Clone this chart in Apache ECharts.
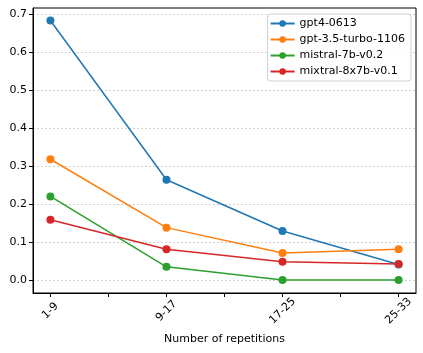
<!DOCTYPE html>
<html><head><meta charset="utf-8">
<script src="https://cdn.jsdelivr.net/npm/echarts@6/dist/echarts.min.js"></script>
<style>html,body{margin:0;padding:0;background:#fff}#c{width:423px;height:353px}</style>
</head><body><div id="c"></div>
<script>
const categories = ['1-9', '9-17', '17-25', '25-33'];
const gpt4 = [0.683, 0.264, 0.129, 0.041];
const gpt35 = [0.318, 0.138, 0.071, 0.081];
const mistral = [0.220, 0.035, 0.0, 0.0];
const mixtral = [0.159, 0.081, 0.048, 0.042];
const yTicks = [0, 0.1, 0.2, 0.3, 0.4, 0.5, 0.6, 0.7];
const xTicks = [0, 0.5, 1, 1.5, 2, 2.5, 3];
const seriesNames = ['gpt4-0613', 'gpt-3.5-turbo-1106', 'mistral-7b-v0.2', 'mixtral-8x7b-v0.1'];
const colors = ['#1f77b4', '#ff7f0e', '#2ca02c', '#d62728'];
const allData = [gpt4, gpt35, mistral, mixtral];

const font = 'DejaVu Sans';
const chart = echarts.init(document.getElementById('c'), null, {renderer: 'canvas'});
chart.setOption({
  animation: false,
  backgroundColor: '#fff',
  grid: {left: 33, right: 7, top: 8, bottom: 60, show: true, borderColor: '#000', borderWidth: 1, containLabel: false},
  legend: {
    orient: 'vertical', right: 12, top: 14,
    itemWidth: 24, itemHeight: 8, itemGap: 5,
    padding: [4, 6, 4, 2],
    borderColor: '#d0d0d0', borderWidth: 1, borderRadius: 3,
    backgroundColor: 'rgba(255,255,255,0.8)',
    textStyle: {fontFamily: font, fontSize: 11, color: '#000'},
    data: seriesNames
  },
  xAxis: {
    type: 'value', min: -0.15, max: 3.15,
    name: 'Number of repetitions', nameLocation: 'middle', nameGap: 41,
    nameTextStyle: {fontFamily: font, fontSize: 11, color: '#000'},
    axisLine: {onZero: false, lineStyle: {color: '#000', width: 1}},
    axisTick: {show: true, inside: false, length: 4, customValues: xTicks, lineStyle: {color: '#000'}},
    axisLabel: {customValues: [0, 1, 2, 3], rotate: 45, margin: 18, align: 'center', verticalAlign: 'middle',
      fontFamily: font, fontSize: 11, color: '#000',
      formatter: v => categories[Math.round(v)]},
    splitLine: {show: false}
  },
  yAxis: {
    type: 'value', min: -0.034, max: 0.716,
    axisLine: {show: true, onZero: false, lineStyle: {color: '#000', width: 1}},
    axisTick: {show: true, inside: false, length: 4, customValues: yTicks, lineStyle: {color: '#000'}},
    axisLabel: {customValues: yTicks, margin: 6, fontFamily: font, fontSize: 11, color: '#000',
      formatter: v => v.toFixed(1)},
    splitLine: {show: true, customValues: yTicks, lineStyle: {color: '#c4c4c4', type: [2, 2], width: 0.8}}
  },
  series: allData.map((d, i) => ({
    name: seriesNames[i], type: 'line',
    data: d.map((v, j) => [j, v]),
    symbol: 'circle', symbolSize: 8,
    color: colors[i],
    lineStyle: {width: 1.5, color: colors[i]},
    itemStyle: {color: colors[i]}
  }))
});
</script></body></html>
